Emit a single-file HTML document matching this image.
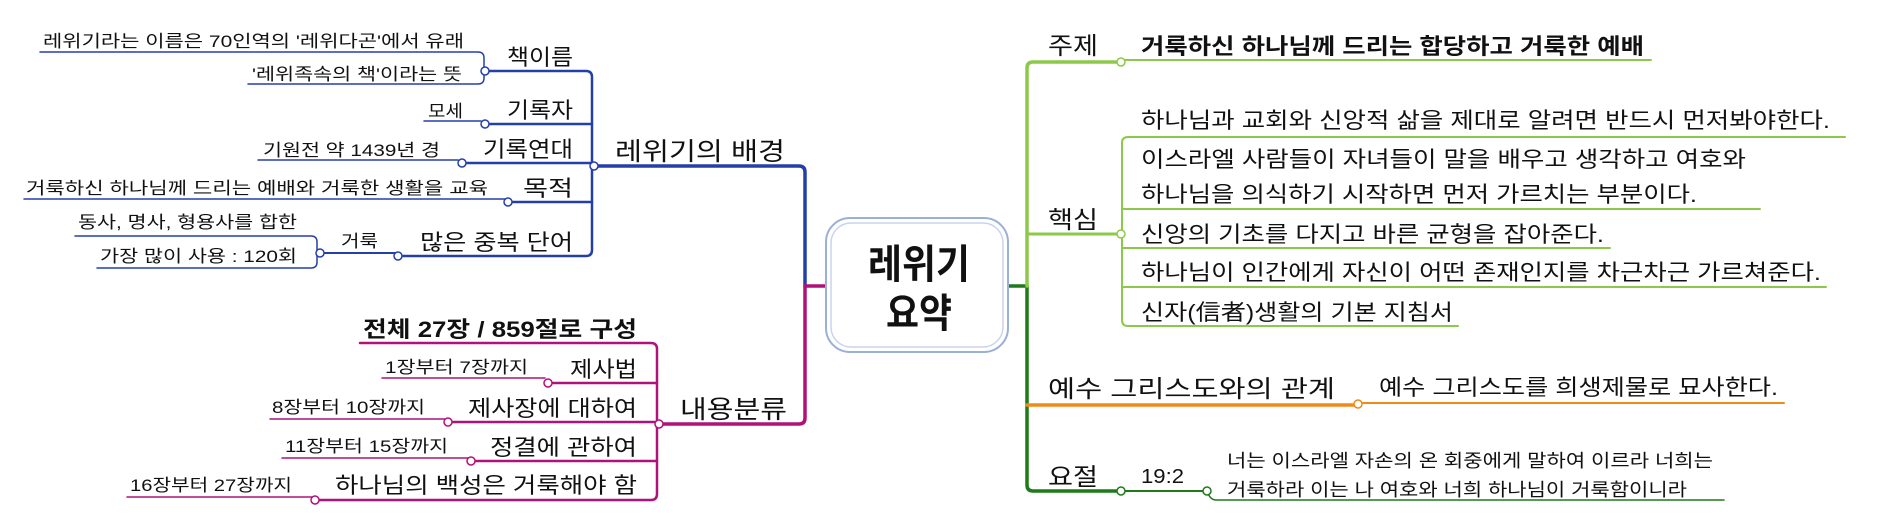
<!DOCTYPE html>
<html><head><meta charset="utf-8"><style>
html,body{margin:0;padding:0;background:#fff;}
svg{display:block;}
text{font-family:"Liberation Sans","Noto Sans CJK KR",sans-serif;fill:#111;}
</style></head><body>
<svg width="1877" height="522" viewBox="0 0 1877 522" xmlns="http://www.w3.org/2000/svg">
<g fill="none" stroke-linecap="round" stroke-linejoin="round">
<!-- BLUE -->
<path d="M594,166 H799 Q805,166 805,172 V286" stroke="#2440a8" stroke-width="3.5"/>
<path d="M485,71 H586 Q592,71 592,77 V250 Q592,256 586,256 H398" stroke="#2440a8" stroke-width="2.5"/>
<path d="M485,124 H592 M462,163 H592 M508,202 H592" stroke="#2440a8" stroke-width="2.5"/>
<path d="M320,253 H398" stroke="#2440a8" stroke-width="2"/>
<path d="M40,52 H478 Q484,52 484,58 V78 Q484,84 478,84 H248" stroke="#2440a8" stroke-width="1.5"/>
<path d="M424,121 H481 M258,160 H458 M24,199 H505" stroke="#2440a8" stroke-width="1.5"/>
<path d="M75,236 H311 Q317,236 317,242 V262 Q317,268 311,268 H97" stroke="#2440a8" stroke-width="1.5"/>
<!-- MAGENTA -->
<path d="M826,286 H805 V418 Q805,424 799,424 H659" stroke="#b0127a" stroke-width="3.5"/>
<path d="M360,343 H651 Q657,343 657,349 V494 Q657,500 651,500 H315" stroke="#b0127a" stroke-width="2.5"/>
<path d="M548,383 H657 M448,422 H657 M471,461 H657" stroke="#b0127a" stroke-width="2.5"/>
<path d="M382,378 H545 M270,419 H445 M282,458 H468 M127,497 H312" stroke="#b0127a" stroke-width="1.5"/>
<!-- GREEN -->
<path d="M1008,286 H1027 V485 Q1027,491 1033,491 H1121" stroke="#1f7a1a" stroke-width="3.5"/>
<path d="M1121,62 H1033 Q1027,62 1027,68 V286" stroke="#8dc84a" stroke-width="3.5"/>
<path d="M1027,234 H1121" stroke="#8dc84a" stroke-width="3"/>
<path d="M1121,60 H1651" stroke="#8dc84a" stroke-width="2"/>
<path d="M1845,137 H1128 Q1122,137 1122,143 V320 Q1122,326 1128,326 H1458" stroke="#8dc84a" stroke-width="2"/>
<path d="M1122,209 H1760 M1122,248 H1610 M1122,287 H1826" stroke="#8dc84a" stroke-width="2"/>
<path d="M1027,405 H1358" stroke="#f08a1a" stroke-width="3.5"/>
<path d="M1358,403 H1784" stroke="#f08a1a" stroke-width="2"/>
<path d="M1121,491 H1207" stroke="#1f7a1a" stroke-width="2"/>
<path d="M1207,491 Q1210,500 1216,500 H1724" stroke="#1f7a1a" stroke-width="1.5"/>
</g>
<!-- circles -->
<g fill="#fff" stroke-width="1.5">
<circle cx="485" cy="71" r="4" stroke="#2440a8"/>
<circle cx="485" cy="124" r="4" stroke="#2440a8"/>
<circle cx="462" cy="163" r="4" stroke="#2440a8"/>
<circle cx="594" cy="166" r="4" stroke="#2440a8"/>
<circle cx="508" cy="202" r="4" stroke="#2440a8"/>
<circle cx="398" cy="256" r="4" stroke="#2440a8"/>
<circle cx="320" cy="253" r="4" stroke="#2440a8"/>
<circle cx="548" cy="383" r="4" stroke="#b0127a"/>
<circle cx="448" cy="422" r="4" stroke="#b0127a"/>
<circle cx="659" cy="424" r="4" stroke="#b0127a"/>
<circle cx="471" cy="461" r="4" stroke="#b0127a"/>
<circle cx="315" cy="500" r="4" stroke="#b0127a"/>
<circle cx="1121" cy="62" r="4" stroke="#8dc84a"/>
<circle cx="1121" cy="234" r="4" stroke="#8dc84a"/>
<circle cx="1358" cy="404" r="4" stroke="#f08a1a"/>
<circle cx="1121" cy="491" r="4" stroke="#1f7a1a"/>
<circle cx="1207" cy="491" r="4" stroke="#1f7a1a"/>
</g>
<!-- center box -->
<rect x="826" y="218" width="182" height="134" rx="24" fill="#fff" stroke="#9bb0d8" stroke-width="2"/>
<rect x="831" y="223" width="172" height="124" rx="20" fill="none" stroke="#c8d4ec" stroke-width="1.5"/>
<text x="868" y="278" font-size="40" font-weight="bold" textLength="102" lengthAdjust="spacingAndGlyphs">레위기</text>
<text x="886" y="327" font-size="40" font-weight="bold" textLength="66" lengthAdjust="spacingAndGlyphs">요약</text>
<!-- left blue texts -->
<g font-size="17">
<text x="43" y="47" textLength="421" lengthAdjust="spacingAndGlyphs">레위기라는 이름은 70인역의 '레위다곤'에서 유래</text>
<text x="252" y="80" textLength="210" lengthAdjust="spacingAndGlyphs">'레위족속의 책'이라는 뜻</text>
<text x="428" y="117" textLength="35" lengthAdjust="spacingAndGlyphs">모세</text>
<text x="263" y="156" textLength="177" lengthAdjust="spacingAndGlyphs">기원전 약 1439년 경</text>
<text x="26" y="194" textLength="462" lengthAdjust="spacingAndGlyphs">거룩하신 하나님께 드리는 예배와 거룩한 생활을 교육</text>
<text x="78" y="228" textLength="219" lengthAdjust="spacingAndGlyphs">동사, 명사, 형용사를 합한</text>
<text x="100" y="262" textLength="197" lengthAdjust="spacingAndGlyphs">가장 많이 사용 : 120회</text>
<text x="341" y="247" textLength="37" lengthAdjust="spacingAndGlyphs">거룩</text>
</g>
<g font-size="22">
<text x="507" y="65" textLength="66" lengthAdjust="spacingAndGlyphs">책이름</text>
<text x="507" y="118" textLength="66" lengthAdjust="spacingAndGlyphs">기록자</text>
<text x="483" y="157" textLength="90" lengthAdjust="spacingAndGlyphs">기록연대</text>
<text x="523" y="196" textLength="50" lengthAdjust="spacingAndGlyphs">목적</text>
<text x="420" y="250" textLength="153" lengthAdjust="spacingAndGlyphs">많은 중복 단어</text>
</g>
<text x="615" y="160" font-size="25" textLength="170" lengthAdjust="spacingAndGlyphs">레위기의 배경</text>
<!-- left magenta texts -->
<text x="363" y="337" font-size="22" font-weight="bold" textLength="274" lengthAdjust="spacingAndGlyphs">전체 27장 / 859절로 구성</text>
<g font-size="17">
<text x="385" y="373" textLength="143" lengthAdjust="spacingAndGlyphs">1장부터 7장까지</text>
<text x="272" y="413" textLength="153" lengthAdjust="spacingAndGlyphs">8장부터 10장까지</text>
<text x="285" y="452" textLength="163" lengthAdjust="spacingAndGlyphs">11장부터 15장까지</text>
<text x="130" y="491" textLength="162" lengthAdjust="spacingAndGlyphs">16장부터 27장까지</text>
</g>
<g font-size="22">
<text x="570" y="377" textLength="67" lengthAdjust="spacingAndGlyphs">제사법</text>
<text x="468" y="416" textLength="169" lengthAdjust="spacingAndGlyphs">제사장에 대하여</text>
<text x="490" y="455" textLength="147" lengthAdjust="spacingAndGlyphs">정결에 관하여</text>
<text x="335" y="493" textLength="302" lengthAdjust="spacingAndGlyphs">하나님의 백성은 거룩해야 함</text>
</g>
<text x="680" y="418" font-size="25" textLength="107" lengthAdjust="spacingAndGlyphs">내용분류</text>
<!-- right texts -->
<g font-size="24">
<text x="1048" y="54" textLength="50" lengthAdjust="spacingAndGlyphs">주제</text>
<text x="1048" y="228" textLength="50" lengthAdjust="spacingAndGlyphs">핵심</text>
<text x="1048" y="397" textLength="287" lengthAdjust="spacingAndGlyphs">예수 그리스도와의 관계</text>
<text x="1048" y="485" textLength="50" lengthAdjust="spacingAndGlyphs">요절</text>
</g>
<text x="1141" y="54" font-size="22" font-weight="bold" textLength="503" lengthAdjust="spacingAndGlyphs">거룩하신 하나님께 드리는 합당하고 거룩한 예배</text>
<g font-size="22">
<text x="1141" y="128" textLength="689" lengthAdjust="spacingAndGlyphs">하나님과 교회와 신앙적 삶을 제대로 알려면 반드시 먼저봐야한다.</text>
<text x="1141" y="167" textLength="605" lengthAdjust="spacingAndGlyphs">이스라엘 사람들이 자녀들이 말을 배우고 생각하고 여호와</text>
<text x="1141" y="202" textLength="556" lengthAdjust="spacingAndGlyphs">하나님을 의식하기 시작하면 먼저 가르치는 부분이다.</text>
<text x="1141" y="242" textLength="463" lengthAdjust="spacingAndGlyphs">신앙의 기초를 다지고 바른 균형을 잡아준다.</text>
<text x="1141" y="280" textLength="680" lengthAdjust="spacingAndGlyphs">하나님이 인간에게 자신이 어떤 존재인지를 차근차근 가르쳐준다.</text>
<text x="1141" y="320" textLength="312" lengthAdjust="spacingAndGlyphs">신자(信者)생활의 기본 지침서</text>
<text x="1379" y="395" textLength="399" lengthAdjust="spacingAndGlyphs">예수 그리스도를 희생제물로 묘사한다.</text>
</g>
<text x="1141" y="483" font-size="20" textLength="43" lengthAdjust="spacingAndGlyphs">19:2</text>
<g font-size="18">
<text x="1227" y="467" textLength="486" lengthAdjust="spacingAndGlyphs">너는 이스라엘 자손의 온 회중에게 말하여 이르라 너희는</text>
<text x="1227" y="496" textLength="460" lengthAdjust="spacingAndGlyphs">거룩하라 이는 나 여호와 너희 하나님이 거룩함이니라</text>
</g>
</svg>
</body></html>
